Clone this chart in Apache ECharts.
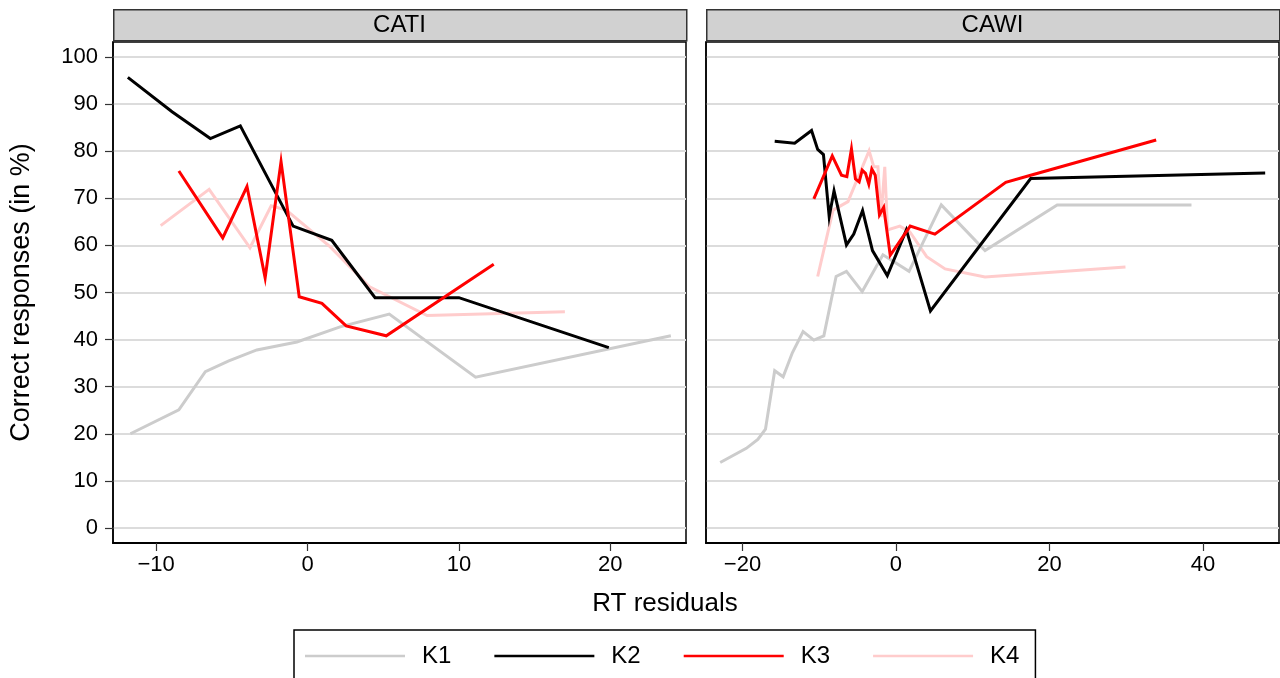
<!DOCTYPE html>
<html>
<head>
<meta charset="utf-8">
<script src="https://cdn.jsdelivr.net/npm/echarts@6/dist/echarts.min.js"></script>
<style>
  html, body { margin: 0; padding: 0; background: #fff; }
  #chart { width: 1280px; height: 678px; }
</style>
</head>
<body>
<div id="chart"></div>
<script>
// ---- Data ----
const panels = ['CATI', 'CAWI'];
const seriesNames = ['K1', 'K2', 'K3', 'K4'];
const yTicks = [0, 10, 20, 30, 40, 50, 60, 70, 80, 90, 100];
const xTicksCATI = [-10, 0, 10, 20];
const xTicksCAWI = [-20, 0, 20, 40];

// CATI panel
const K1_cati_x = [-11.7, -8.5, -6.75, -5.2, -3.35, -0.7, 2.15, 5.4, 11.1, 24.0];
const K1_cati_y = [20.0, 25.1, 33.2, 35.5, 37.8, 39.5, 42.7, 45.4, 32.0, 40.8];
const K2_cati_x = [-11.87, -8.95, -6.42, -4.44, -0.95, 1.6, 4.46, 10.0, 19.9];
const K2_cati_y = [95.7, 88.4, 82.7, 85.4, 64.1, 61.1, 48.9, 48.9, 38.3];
const K3_cati_x = [-8.5, -5.6, -4.0, -2.8, -1.75, -0.55, 0.95, 2.55, 5.2, 12.3];
const K3_cati_y = [75.8, 61.6, 72.5, 53.1, 77.8, 49.1, 47.7, 42.9, 40.8, 56.0];
const K4_cati_x = [-9.7, -6.5, -3.8, -2.4, -1.4, 1.5, 4.1, 7.9, 17.0];
const K4_cati_y = [64.2, 71.9, 59.5, 68.4, 67.5, 59.7, 51.2, 45.1, 45.9];

// CAWI panel
const K1_cawi_x = [-22.9, -19.5, -18.0, -17.0, -15.8, -14.7, -13.5, -12.1, -10.7, -9.4, -7.8, -6.45, -4.4, -1.7, 1.7, 5.9, 11.6, 21.0, 38.5];
const K1_cawi_y = [13.9, 16.9, 18.8, 21.0, 33.4, 32.1, 37.2, 41.7, 39.9, 40.8, 53.4, 54.5, 50.2, 58.0, 54.5, 68.6, 58.9, 68.6, 68.6];
const K2_cawi_x = [-15.8, -13.2, -11.0, -10.2, -9.45, -8.7, -8.07, -6.45, -5.5, -4.35, -3.06, -1.13, 1.35, 4.49, 17.55, 48.1];
const K2_cawi_y = [82.1, 81.7, 84.4, 80.4, 79.3, 66.1, 71.6, 60.1, 62.4, 67.4, 58.9, 53.6, 63.3, 46.1, 74.2, 75.4];
const K3_cawi_x = [-10.7, -8.3, -7.1, -6.4, -5.8, -5.28, -4.8, -4.4, -3.97, -3.54, -3.15, -2.7, -2.15, -1.6, -0.75, 1.85, 5.07, 14.3, 17.55, 33.9];
const K3_cawi_y = [69.9, 79.0, 74.9, 74.6, 80.5, 74.1, 73.5, 76.0, 75.3, 73.0, 76.2, 74.9, 66.5, 68.1, 57.9, 64.1, 62.4, 73.4, 74.9, 82.4];
const K4_cawi_x = [-10.2, -8.2, -6.25, -3.5, -2.9, -2.35, -1.95, -1.46, -1.1, 0.5, 1.8, 4.0, 6.4, 11.6, 29.9];
const K4_cawi_y = [53.4, 67.5, 69.3, 80.1, 76.7, 76.7, 66.0, 76.7, 63.3, 64.1, 62.9, 57.6, 55.0, 53.3, 55.4];

// ---- Styles ----
const colors = { K1: '#cccccc', K2: '#000000', K3: '#ff0000', K4: '#ffcccc' };
const FONT = '"Liberation Sans", Arial, Helvetica, sans-serif';
const zip = (xs, ys) => xs.map((x, i) => [x, ys[i]]);
const minus = v => String(v).replace('-', '\u2212');

const panelData = [
  { K1: zip(K1_cati_x, K1_cati_y), K2: zip(K2_cati_x, K2_cati_y), K3: zip(K3_cati_x, K3_cati_y), K4: zip(K4_cati_x, K4_cati_y) },
  { K1: zip(K1_cawi_x, K1_cawi_y), K2: zip(K2_cawi_x, K2_cawi_y), K3: zip(K3_cawi_x, K3_cawi_y), K4: zip(K4_cawi_x, K4_cawi_y) }
];

const G = [
  { left: 113, top: 42, width: 573, height: 501 },
  { left: 706, top: 42, width: 573, height: 501 }
];

const drawOrder = ['K4', 'K1', 'K2', 'K3'];
const series = [];
panelData.forEach((pd, pi) => {
  drawOrder.forEach(name => {
    series.push({
      name: name, type: 'line', xAxisIndex: pi, yAxisIndex: pi,
      data: pd[name], showSymbol: false, symbol: 'none', animation: false,
      lineStyle: { color: colors[name], width: 3, join: 'miter' },
      itemStyle: { color: colors[name] }, z: 3
    });
  });
});

function xAxis(idx, min, max, ticks) {
  return {
    type: 'value', gridIndex: idx, min: min, max: max,
    axisLine: { show: true, onZero: false, lineStyle: { color: '#000', width: 2 } },
    axisTick: { show: true, length: 8, customValues: ticks, lineStyle: { color: '#333', width: 1.2 } },
    axisLabel: { customValues: ticks, formatter: minus, fontSize: 22, color: '#000', fontFamily: FONT, margin: 11 },
    splitLine: { show: false }
  };
}
function yAxis(idx, showLabels) {
  return {
    type: 'value', gridIndex: idx, min: -3.2, max: 103.2,
    axisLine: { show: true, onZero: false, lineStyle: { color: '#000', width: 1.5 } },
    axisTick: { show: showLabels, length: 8, customValues: yTicks, lineStyle: { color: '#333', width: 1.2 } },
    axisLabel: { show: showLabels, customValues: yTicks, fontSize: 22, color: '#000', fontFamily: FONT, margin: 15 },
    splitLine: { show: true, lineStyle: { color: '#dcdcdc', width: 2 } },
    name: showLabels ? 'Correct responses (in %)' : '',
    nameLocation: 'middle', nameGap: 78,
    nameTextStyle: { fontSize: 27, color: '#000', fontFamily: FONT }
  };
}

const graphic = [];
panels.forEach((p, i) => {
  graphic.push({
    type: 'rect', left: G[i].left, top: 9,
    shape: { width: G[i].width, height: 31 },
    style: { fill: '#d1d1d1', stroke: '#333', lineWidth: 1.5 }, z: 10
  });
  graphic.push({
    type: 'text', x: G[i].left + G[i].width / 2, y: 25,
    style: { text: p, fontSize: 24, fontFamily: FONT, fill: '#000', align: 'center', verticalAlign: 'middle' }, z: 11
  });
});
graphic.push({
  type: 'text', x: 665, y: 604,
  style: { text: 'RT residuals', fontSize: 26, fontFamily: FONT, fill: '#000', align: 'center', verticalAlign: 'middle' }
});

const option = {
  backgroundColor: '#fff',
  animation: false,
  grid: G.map(g => Object.assign({ show: true, borderColor: '#000', borderWidth: 1.5, containLabel: false }, g)),
  xAxis: [xAxis(0, -12.85, 25, xTicksCATI), xAxis(1, -24.75, 49.9, xTicksCAWI)],
  yAxis: [yAxis(0, true), yAxis(1, false)],
  legend: {
    data: seriesNames, left: 294, top: 630, orient: 'horizontal',
    itemWidth: 100, itemHeight: 14, itemGap: 43,
    padding: [14, 16, 40, 11],
    borderColor: '#000', borderWidth: 1.5,
    textStyle: { fontSize: 24, color: '#000', fontFamily: FONT, padding: [0, 0, 0, 12] },
    icon: 'path://M0,6 L100,6 L100,8.6 L0,8.6 Z',
    selectedMode: false
  },
  graphic: graphic,
  series: series
};

const chart = echarts.init(document.getElementById('chart'), null, { renderer: 'canvas' });
chart.setOption(option);
</script>
</body>
</html>
